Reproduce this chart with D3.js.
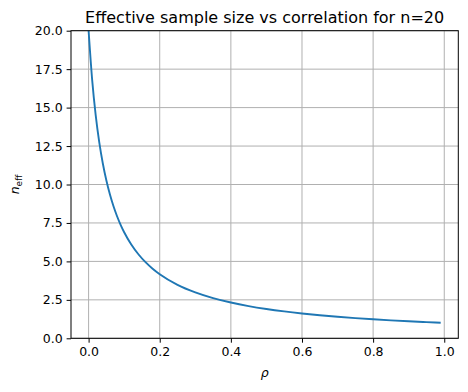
<!DOCTYPE html>
<html><head><meta charset="utf-8">
<script src="https://cdn.jsdelivr.net/npm/d3@7"></script>
<style>body{margin:0;background:#fff;} text{font-family:"DejaVu Sans",sans-serif;}</style>
</head><body>
<svg id="c" width="468" height="392"></svg>
<script>
const rho = [0,0.01,0.02,0.03,0.04,0.05,0.06,0.07,0.08,0.09,0.10,0.12,0.14,0.16,0.18,0.20,0.25,0.30,0.35,0.40,0.45,0.50,0.55,0.60,0.65,0.70,0.75,0.80,0.85,0.90,0.95,0.99];
const nEff = [20,16.807,14.493,12.739,11.364,10.256,9.346,8.584,7.937,7.380,6.897,6.098,5.464,4.950,4.525,4.167,3.478,2.985,2.614,2.326,2.094,1.905,1.747,1.613,1.498,1.399,1.311,1.235,1.166,1.105,1.050,1.010];
const xTicks = [0,0.2,0.4,0.6,0.8,1.0];
const yTicks = [0,2.5,5,7.5,10,12.5,15,17.5,20];
const title = "Effective sample size vs correlation for n=20";

const L=71, R=458.3, T=30.7, B=338.3;
const svg = d3.select("#c");
const x = d3.scaleLinear().domain([-0.0495,1.0395]).range([L,R]);
const y = d3.scaleLinear().domain([0,20]).range([B,T]);

const defs = svg.append("defs");
defs.append("clipPath").attr("id","clip").append("rect").attr("x",L).attr("y",T).attr("width",R-L).attr("height",B-T);

// grid
const g = svg.append("g");
g.selectAll(".gx").data(xTicks).join("line").attr("x1",d=>x(d)).attr("x2",d=>x(d)).attr("y1",T).attr("y2",B).attr("stroke","#b0b0b0").attr("stroke-width",1);
g.selectAll(".gy").data(yTicks).join("line").attr("y1",d=>y(d)).attr("y2",d=>y(d)).attr("x1",L).attr("x2",R).attr("stroke","#b0b0b0").attr("stroke-width",1);

// line
const line = d3.line().x((d,i)=>x(rho[i])).y(d=>y(d)).curve(d3.curveMonotoneX);
svg.append("path").datum(nEff).attr("d",line).attr("fill","none").attr("stroke","#1f77b4").attr("stroke-width",1.9).attr("clip-path","url(#clip)");

// axes
const xAxis = d3.axisBottom(x).tickValues(xTicks).tickFormat(d3.format(".1f")).tickSize(4.4).tickPadding(4);
const yAxis = d3.axisLeft(y).tickValues(yTicks).tickFormat(d3.format(".1f")).tickSize(4.4).tickPadding(4);
const ax = svg.append("g").attr("transform",`translate(0,${B})`).call(xAxis);
const ay = svg.append("g").attr("transform",`translate(${L},0)`).call(yAxis);
[ax,ay].forEach(a=>{a.select(".domain").remove(); a.selectAll("line").attr("stroke","#000").attr("stroke-width",1); a.selectAll("text").attr("font-size",12.5).attr("fill","#000").attr("font-family","DejaVu Sans");});

svg.append("rect").attr("x",L).attr("y",T).attr("width",R-L).attr("height",B-T).attr("fill","none").attr("stroke","#000").attr("stroke-width",1);

svg.append("text").attr("x",(L+R)/2).attr("y",22.5).attr("text-anchor","middle").attr("font-size",16).text(title);
svg.append("text").attr("x",(L+R)/2).attr("y",377).attr("text-anchor","middle").attr("font-size",12.5).attr("font-style","italic").text("ρ");
const yl = svg.append("text").attr("transform",`translate(19,${(T+B)/2}) rotate(-90)`).attr("text-anchor","middle").attr("font-size",12.5);
yl.append("tspan").attr("font-style","italic").text("n");
yl.append("tspan").attr("font-size",9).attr("dy",3).text("eff");
</script>
</body></html>
